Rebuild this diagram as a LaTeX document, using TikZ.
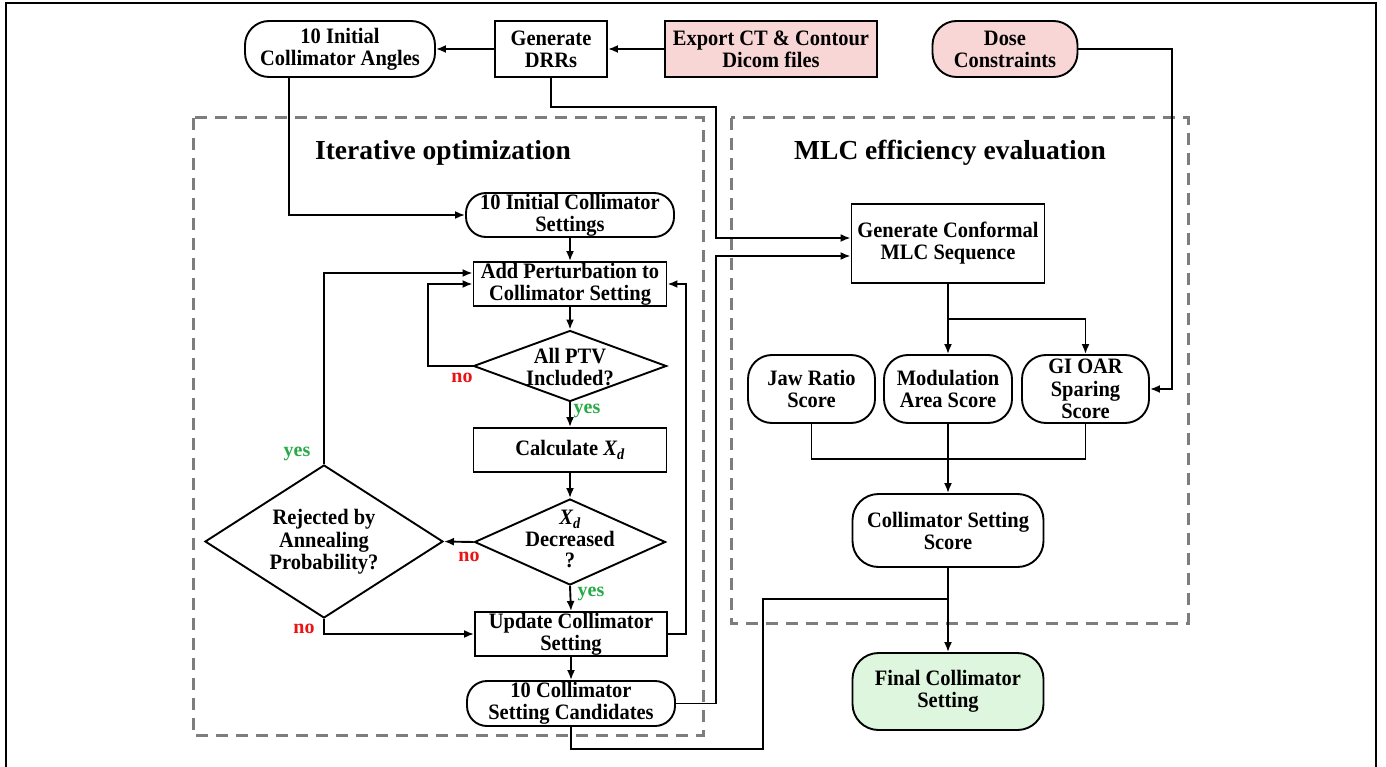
\documentclass[tikz,border=0pt]{standalone}
\usepackage{fontspec}
\setmainfont{Liberation Serif}[FakeStretch=0.93]
\newfontfamily\titlefont{Liberation Serif}
\usetikzlibrary{shapes.geometric,arrows.meta,calc}
\definecolor{pinkfill}{RGB}{248,214,214}
\definecolor{greenfill}{RGB}{222,246,222}
\definecolor{nored}{RGB}{235,20,20}
\definecolor{yesgreen}{RGB}{40,170,70}
\definecolor{dashgray}{RGB}{125,125,125}
\newcommand{\nodefont}{\fontsize{22}{22}\selectfont\bfseries}
\begin{document}
\begin{tikzpicture}[x=1pt,y=-1pt,
  box/.style={draw, line width=1.9pt, fill=white, inner sep=0pt, align=center, font=\nodefont},
  rect/.style={box, rectangle},
  stad/.style={box, rectangle, rounded corners=#1},
  dia/.style={draw, diamond, line width=1.9pt, fill=white, inner sep=0pt},
  txt/.style={align=center, inner sep=0pt, font=\nodefont},
  conn/.style={line width=1.9pt},
  arr/.style={line width=1.9pt, -{Latex[length=10pt,width=8pt]}},
  dbox/.style={draw=dashgray, line width=3pt, dash pattern=on 12pt off 8pt},
  title/.style={font=\titlefont\fontsize{27.5}{30}\selectfont\bfseries, inner sep=0pt},
  lab/.style={font=\titlefont\fontsize{20}{20}\selectfont\bfseries, inner sep=0pt}
]
\useasboundingbox (0,0) rectangle (1386,767);
\draw[line width=2.5pt] (6,767) -- (6,3) -- (1376,3) -- (1376,767);

% dashed groups
\draw[dbox] (193,118) rectangle (703,735);
\draw[dbox] (731,118) rectangle (1188,623);
\node[title] (t1) at (443,153) {Iterative optimization};
\node[title] (t2) at (950,153) {MLC efficiency evaluation};

% top row
\node[stad=24pt, minimum width=190pt, minimum height=56pt] (A) at (340,49) {10 Initial\\Collimator Angles};
\node[rect, minimum width=112pt, minimum height=56pt] (B) at (551,49) {Generate\\DRRs};
\node[rect, fill=pinkfill, minimum width=212pt, minimum height=56pt] (C) at (771,49) {Export CT \& Contour\\Dicom files};
\node[stad=24pt, fill=pinkfill, minimum width=145pt, minimum height=56pt] (D) at (1005,49) {Dose\\Constraints};

% iterative optimization
\node[stad=20pt, minimum width=208pt, minimum height=44pt] (I) at (570,215) {10 Initial Collimator\\Settings};
\node[rect, minimum width=193pt, minimum height=44pt] (H) at (570,284) {Add Perturbation to\\Collimator Setting};
\node[dia, minimum width=193pt, minimum height=71pt] (J) at (570,366) {};
\node[txt] (Jt) at (570,367) {All PTV\\Included?};
\node[rect, minimum width=193pt, minimum height=44pt] (K) at (570,450) {Calculate {\itshape X\textsubscript{d}}};
\node[dia, minimum width=191pt, minimum height=86pt] (L) at (570,542) {};
\node[txt, font=\fontsize{22}{21.5}\selectfont\bfseries] (Lt) at (570,539) {{\itshape X\textsubscript{d}}\\Decreased\\?};
\node[dia, minimum width=238pt, minimum height=153pt] (M) at (324,541.5) {};
\node[txt, font=\fontsize{22}{22.5}\selectfont\bfseries] (Mt) at (324,542) {Rejected by\\Annealing\\Probability?};
\node[rect, minimum width=192pt, minimum height=44pt] (N) at (571,634) {Update Collimator\\Setting};
\node[stad=20pt, minimum width=208pt, minimum height=45pt] (O) at (571,703.5) {10 Collimator\\Setting Candidates};

% MLC efficiency evaluation
\node[rect, minimum width=193pt, minimum height=79pt] (E) at (948,243.5) {Generate Conformal\\MLC Sequence};
\node[stad=24pt, minimum width=127pt, minimum height=68pt] (Jaw) at (811.5,389) {Jaw Ratio\\Score};
\node[stad=24pt, minimum width=128pt, minimum height=68pt] (Mod) at (948,389) {Modulation\\Area Score};
\node[stad=24pt, minimum width=127pt, minimum height=68pt, font=\fontsize{22}{22.5}\selectfont\bfseries] (GI) at (1085.5,389) {GI OAR\\Sparing\\Score};
\node[stad=26pt, minimum width=191pt, minimum height=73pt] (F) at (948,530.5) {Collimator Setting\\Score};
\node[stad=26pt, fill=greenfill, minimum width=191pt, minimum height=77pt] (G) at (948,691.5) {Final Collimator\\Setting};

% helper coordinates
\coordinate (j1) at (716,107);
\coordinate (j2) at (428,284);
\coordinate (j3) at (686,284);
\coordinate (j4) at (716,256);
\coordinate (j5) at (763,749);
\coordinate (j6) at (948,599);
\coordinate (j7) at (948,319);
\coordinate (j8) at (948,459);
\coordinate (d1) at (1172,389);

% connectors top
\draw[arr] (C.west) -- (B.east);
\draw[arr] (B.west) -- (A.east);
\draw[arr] (B.south) |- (j1) |- ([yshift=5.5pt]E.west);
\draw[arr] (D.east) -| (d1) -- (GI.east);
\draw[arr] ([xshift=-51pt]A.south) |- (I.west);

% connectors iterative
\draw[arr] (I.south) -- (H.north);
\draw[arr] (H.south) -- (J.north);
\draw[arr] (J.west) -| (j2) -- (H.west);
\draw[arr] (M.north) |- ([yshift=11pt]H.west);
\draw[arr] (J.south) -- (K.north);
\draw[arr] (K.south) -- (L.north);
\draw[arr] (L.west) -- (M.east);
\draw[arr] (L.south) -- (N.north);
\draw[arr] (M.south) |- (N.west);
\draw[arr] (N.east) -| (j3) -- (H.east);
\draw[arr] (N.south) -- (O.north);
\draw[arr] (O.east) -| (j4) -- ([yshift=-12.5pt]E.west);
\draw[conn] (O.south) |- (j5) |- (j6);

% connectors MLC
\draw[arr] (E.south) -- (Mod.north);
\draw[arr] (j7) -| (GI.north);
\draw[conn] (Jaw.south) |- (j8) -| (GI.south);
\draw[arr] (Mod.south) -- (F.north);
\draw[arr] (F.south) -- (G.north);

% yes / no labels
\node[lab, text=nored] (no1) at (462,378) {no};
\node[lab, text=yesgreen] (yes1) at (587,411) {yes};
\node[lab, text=nored] (no2) at (469,557) {no};
\node[lab, text=yesgreen] (yes2) at (297,454) {yes};
\node[lab, text=nored] (no3) at (304,629) {no};
\node[lab, text=yesgreen] (yes3) at (591,594) {yes};
\end{tikzpicture}
\end{document}
